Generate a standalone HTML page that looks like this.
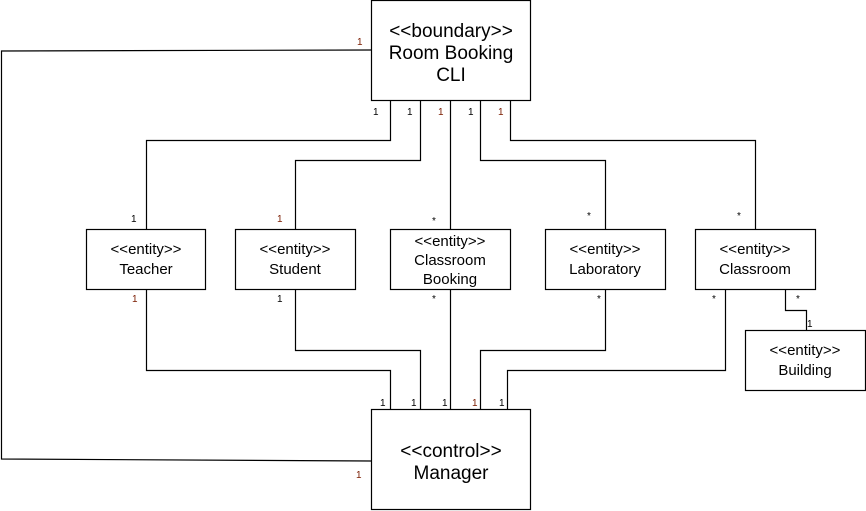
<!DOCTYPE html>
<html><head><style>
html,body{margin:0;padding:0;background:#fff;}
svg{display:block;}
text{font-family:"Liberation Sans",sans-serif;fill:#000;}
.b{font-size:19px;text-anchor:middle;}
.e{font-size:15px;text-anchor:middle;}
.s{font-size:10px;}
.r{fill:#7a1c00;}
</style></head><body>
<svg width="866" height="511" viewBox="0 0 866 511">
<g fill="none" stroke="#000" stroke-width="1.2">
<rect x="371.5" y="0.5" width="159" height="100"/>
<rect x="371.5" y="409.5" width="159" height="100"/>
<rect x="86.5" y="229.5" width="119" height="60"/>
<rect x="235.5" y="229.5" width="120" height="60"/>
<rect x="390.5" y="229.5" width="120" height="60"/>
<rect x="545.5" y="229.5" width="120" height="60"/>
<rect x="695.5" y="229.5" width="120" height="60"/>
<rect x="745.5" y="330.5" width="120" height="60"/>
<polyline points="371,50 1.5,51 1.5,459 371,461"/>
<polyline points="390.5,100 390.5,140.5 146.5,140.5 146.5,229"/>
<polyline points="420.5,100 420.5,160.5 295.5,160.5 295.5,229"/>
<polyline points="450.5,100 450.5,229"/>
<polyline points="480.5,100 480.5,160.5 605.5,160.5 605.5,229"/>
<polyline points="510.5,100 510.5,140.5 755.5,140.5 755.5,229"/>
<polyline points="146.5,290 146.5,370.5 390.5,370.5 390.5,409"/>
<polyline points="295.5,290 295.5,350.5 420.5,350.5 420.5,409"/>
<polyline points="450.5,290 450.5,409"/>
<polyline points="605.5,290 605.5,350.5 480.5,350.5 480.5,409"/>
<polyline points="725.5,290 725.5,370.5 507.5,370.5 507.5,409"/>
<polyline points="785.5,290 785.5,310.5 806.5,310.5 806.5,330"/>
</g>
<text class="b" x="451" y="37">&lt;&lt;boundary&gt;&gt;</text>
<text class="b" x="451" y="59">Room Booking</text>
<text class="b" x="451" y="81">CLI</text>
<text class="b" x="451" y="457">&lt;&lt;control&gt;&gt;</text>
<text class="b" x="451" y="479">Manager</text>
<text class="e" x="146" y="254">&lt;&lt;entity&gt;&gt;</text>
<text class="e" x="146" y="274">Teacher</text>
<text class="e" x="295" y="254">&lt;&lt;entity&gt;&gt;</text>
<text class="e" x="295" y="274">Student</text>
<text class="e" x="450" y="246">&lt;&lt;entity&gt;&gt;</text>
<text class="e" x="450" y="265">Classroom</text>
<text class="e" x="450" y="284">Booking</text>
<text class="e" x="605" y="254">&lt;&lt;entity&gt;&gt;</text>
<text class="e" x="605" y="274">Laboratory</text>
<text class="e" x="755" y="254">&lt;&lt;entity&gt;&gt;</text>
<text class="e" x="755" y="274">Classroom</text>
<text class="e" x="805" y="355">&lt;&lt;entity&gt;&gt;</text>
<text class="e" x="805" y="375">Building</text>
<g class="s">
<text x="357" y="45" class="r">1</text>
<text x="373" y="115">1</text>
<text x="407" y="115">1</text>
<text x="438" y="115" class="r">1</text>
<text x="468" y="115">1</text>
<text x="498" y="115" class="r">1</text>
<text x="131" y="222">1</text>
<text x="277" y="222" class="r">1</text>
<text x="432" y="224">*</text>
<text x="587" y="219">*</text>
<text x="737" y="219">*</text>
<text x="132" y="302" class="r">1</text>
<text x="277" y="302">1</text>
<text x="432" y="302">*</text>
<text x="597" y="302">*</text>
<text x="712" y="302">*</text>
<text x="796" y="302">*</text>
<text x="807" y="327">1</text>
<text x="380" y="406">1</text>
<text x="411" y="406">1</text>
<text x="442" y="406">1</text>
<text x="472" y="406" class="r">1</text>
<text x="499" y="406">1</text>
<text x="356" y="478" class="r">1</text>
</g>
</svg>
</body></html>
